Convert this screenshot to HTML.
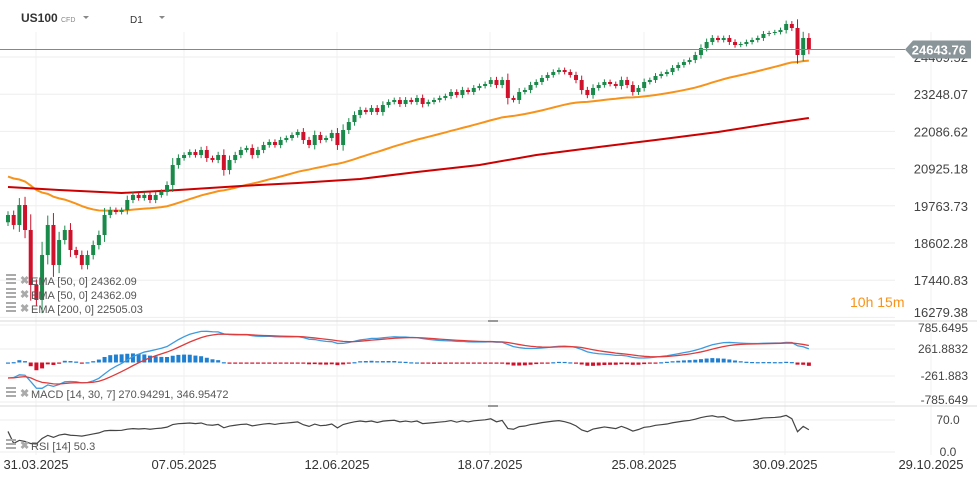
<!DOCTYPE html>
<html><head><meta charset="utf-8"><style>
body{margin:0;background:#fff;font-family:"Liberation Sans",sans-serif}
svg{display:block}
text{font-family:"Liberation Sans",sans-serif}
</style></head><body>
<svg id="c" width="977" height="480"></svg>
<script>
const closes=[19477,19165,19789,19008,17291,16823,18228,19165,17916,18696,19008,18384,18228,17916,18228,18540,18852,19477,19633,19570,19633,19945,20101,20007,20101,19945,20101,20195,20413,21038,21256,21350,21443,21350,21506,21256,21194,21350,20882,21194,21350,21506,21568,21350,21506,21662,21756,21662,21818,21881,21974,22068,21818,21662,21974,21818,21881,22037,21662,22130,22380,22599,22755,22692,22817,22692,22911,23005,23067,22942,23067,23005,23130,22942,23005,23067,23130,23192,23317,23223,23379,23317,23442,23504,23567,23691,23535,23691,23130,23067,23317,23379,23535,23629,23754,23848,23941,24004,23941,23848,23691,23379,23223,23442,23535,23629,23567,23504,23691,23535,23317,23442,23629,23691,23816,23878,23941,24066,24160,24253,24316,24472,24690,24878,25003,24940,25003,24878,24784,24815,24878,24940,25003,25128,25159,25190,25252,25440,25315,24472,25003,24643.76];
const firstOpen=19250;
const ema200Idx=[0,9,20,30,41,51,62,72,83,93,104,114,125,135,141];
const ema200Val=[20351,20257,20164,20257,20382,20475,20600,20819,21038,21350,21600,21818,22068,22349,22505];
const priceTicks=[24409.52,23248.07,22086.62,20925.18,19763.73,18602.28,17440.83,16279.38];
const dateLabels=["31.03.2025","07.05.2025","12.06.2025","18.07.2025","25.08.2025","30.09.2025","29.10.2025"];
const dateX=[36,184,337,490,644,785,931];
const macdTicks=[785.6495,261.8832,-261.883,-785.649];
const rsiTicks=[70.0,0.0];

const NS="http://www.w3.org/2000/svg";
const svg=document.getElementById('c');
function mk(t,a,p){const e=document.createElementNS(NS,t);for(const k in a)e.setAttribute(k,a[k]);(p||svg).appendChild(e);return e;}
const clamp=(v,a,b)=>Math.max(a,Math.min(b,v));
const X=i=>8+i*5.68;
const Y=p=>57+(24409.52-p)/1161.45*37.2;
const YM=v=>362.5-v/261.88*13.5;
const YR=v=>452-v*0.457;

// grid
priceTicks.forEach(p=>{const l=mk('line',{x1:0,x2:895,y1:Y(p),y2:Y(p),stroke:'#eeeeee'});});
dateX.forEach(x=>{const l=mk('line',{x1:x,x2:x,y1:32,y2:455,stroke:'#f0f0f0'});});
macdTicks.forEach(v=>{const yy=clamp(YM(v),325,402);const l=mk('line',{x1:0,x2:895,y1:yy,y2:yy,stroke:'#eeeeee'});});
rsiTicks.forEach(v=>{const l=mk('line',{x1:0,x2:895,y1:YR(v),y2:YR(v),stroke:'#eeeeee'});});
[321,406].forEach(y=>{const l=mk('line',{x1:0,x2:977,y1:y,y2:y,stroke:'#d8d8d8'});
const h=mk('line',{x1:488,x2:498,y1:y,y2:y,stroke:'#999',"stroke-width":2});});

// EMA50
let e50=[],e=20725;const a50=2/51;
closes.forEach(c=>{e=e+a50*(c-e);e50.push(e);});
const pl50=mk('polyline',{points:e50.map((v,i)=>X(i)+','+Y(v)).join(' '),fill:'none',stroke:'#f7931a','stroke-width':2});

const pl200=mk('polyline',{points:ema200Val.map((v,k)=>X(ema200Idx[k])+','+Y(v)).join(' '),fill:'none',stroke:'#cc0000','stroke-width':2});


// candles
closes.forEach((c,i)=>{
 const o=i?closes[i-1]:firstOpen;const r=Math.abs(c-o);const hi=Math.max(o,c)+r*0.25+60,lo=Math.min(o,c)-r*0.25-60;
 const col=c>=o?'#1a8a4a':'#d0112b';
 const g=mk('g',{});
 mk('line',{x1:X(i),x2:X(i),y1:Y(hi),y2:Y(lo),stroke:col},g);
 const t=Y(Math.max(o,c)),b=Y(Math.min(o,c));
 mk('rect',{x:X(i)-2,y:t,width:4,height:Math.max(1,b-t),fill:col},g);
});

const last=closes[closes.length-1];
const cp=mk('line',{x1:0,x2:905,y1:Y(last),y2:Y(last),stroke:'#7d8a90'});

priceTicks.forEach(p=>{const t=mk('text',{x:968,y:clamp(Y(p),0,312)+5,'text-anchor':'end','font-size':13,fill:'#444'});t.textContent=p.toFixed(2);});
const pb=mk('path',{d:`M905 ${Y(last)} L913 ${Y(last)-9} H971 V${Y(last)+9} H913 Z`,fill:'#8a9599'});
const pt=mk('text',{x:966,y:Y(last)+5,'text-anchor':'end','font-size':13,fill:'#fff','font-weight':'bold'});pt.textContent=last.toFixed(2);

// MACD
function ema(arr,n){const a=2/(n+1);let v=arr[0];return arr.map(x=>v=v+a*(x-v));}
const f=ema(closes,14),s=ema(closes,30);
const macd=f.map((v,i)=>v-s[i]-300*Math.pow(0.9,i));
const sig=ema(macd,7);
macd.forEach((m,i)=>{const h=m-sig[i];const y0=YM(0),y1=YM(h);
 const r=mk('rect',{x:X(i)-2,y:Math.min(y0,y1),width:4,height:Math.max(1.2,Math.abs(y1-y0)),fill:h>=0?'#1f7fd0':'#d0112b'});
 });
const ml=mk('polyline',{points:macd.map((v,i)=>X(i)+','+YM(v)).join(' '),fill:'none',stroke:'#3d9be0','stroke-width':1.3});
const sl=mk('polyline',{points:sig.map((v,i)=>X(i)+','+YM(v)).join(' '),fill:'none',stroke:'#e03a3a','stroke-width':1.3});
macdTicks.forEach(v=>{const t=mk('text',{x:968,y:clamp(YM(v),328,400)+4,'text-anchor':'end','font-size':12,fill:'#444'});t.textContent=String(v);});

// RSI
let ag=0,al=0,rsi=[];
closes.forEach((c,i)=>{if(!i){rsi.push(45);return;}const d=c-closes[i-1];const g=Math.max(d,0),l=Math.max(-d,0);
 if(i===1){ag=g+100;al=l+120;}else{ag=(ag*13+g)/14;al=(al*13+l)/14;} rsi.push(100-100/(1+ag/al));});
const rl=mk('polyline',{points:rsi.map((v,i)=>X(i)+','+YR(v)).join(' '),fill:'none',stroke:'#444','stroke-width':1.2});
rsiTicks.forEach(v=>{const t=mk('text',{x:948,y:YR(v)+4,'text-anchor':'middle','font-size':12,fill:'#444'});t.textContent=v.toFixed(1);});

dateLabels.forEach((d,i)=>{const t=mk('text',{x:dateX[i],y:469,'text-anchor':'middle','font-size':13,fill:'#333'});t.textContent=d;});

function leg(y,txt,name){const g=mk('g',{});
 mk('rect',{x:6,y:y-8,width:10,height:2,fill:'#aaa'},g);mk('rect',{x:6,y:y-4,width:10,height:2,fill:'#aaa'},g);mk('rect',{x:6,y:y,width:10,height:2,fill:'#aaa'},g);
 const x=mk('text',{x:20,y:y+2,'font-size':11,fill:'#aaa','font-weight':'bold'},g);x.textContent='✖';
 const t=mk('text',{x:31,y:y+3,'font-size':11,fill:'#555'},g);t.textContent=txt;}
leg(282,'EMA [50, 0] 24362.09','legend-ema-50');
leg(296,'EMA [50, 0] 24362.09','legend-ema-50-2');
leg(310,'EMA [200, 0] 22505.03','legend-ema-200');
leg(395,'MACD [14, 30, 7] 270.94291,   346.95472','legend-macd');
leg(447,'RSI [14] 50.3','legend-rsi');

const h1=mk('text',{x:21,y:22,'font-size':12,'font-weight':'bold',fill:'#333'});h1.textContent='US100';
const h2=mk('text',{x:61,y:22,'font-size':7,fill:'#888'});h2.textContent='CFD';
const a1=mk('path',{d:'M83 16 h6 l-3 3 z',fill:'#888'});
const h3=mk('text',{x:130,y:23,'font-size':10,fill:'#333'});h3.textContent='D1';
const a2=mk('path',{d:'M159 16 h6 l-3 3 z',fill:'#888'});
const cd=mk('text',{x:850,y:307,'font-size':14,fill:'#f7931a'});cd.textContent='10h 15m';
</script>
</body></html>
